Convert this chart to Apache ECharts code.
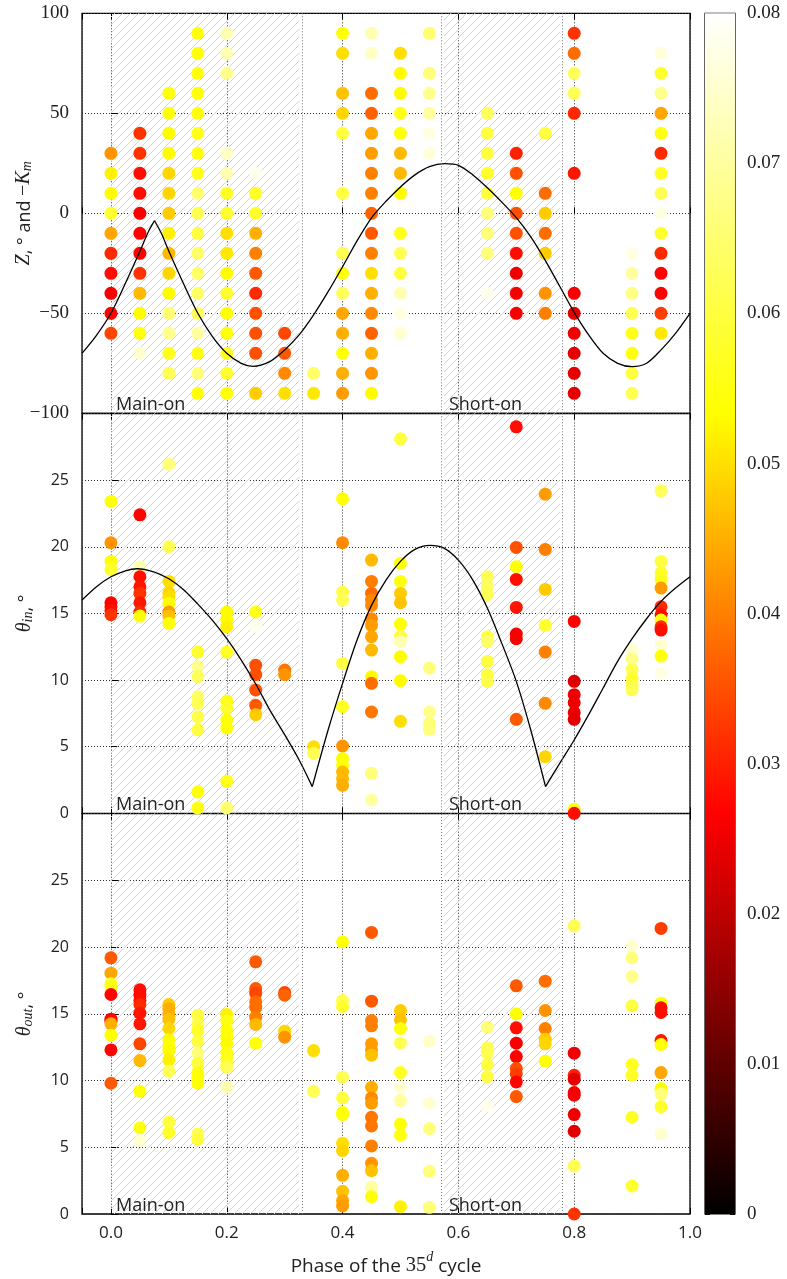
<!DOCTYPE html>
<html><head><meta charset="utf-8">
<script src="https://cdn.jsdelivr.net/npm/echarts@6/dist/echarts.min.js"></script>
<style>html,body{margin:0;padding:0;background:#fff}#c{width:787px;height:1279px}</style>
</head><body><div id="c"></div>
<script>
// ---------------- DATA ----------------
const xRange = [-0.05, 1.0];
const zTicks = [-100, -50, 0, 50, 100];
const thetaTicks = [0, 5, 10, 15, 20, 25];
const colorTicks = [0, 0.01, 0.02, 0.03, 0.04, 0.05, 0.06, 0.07, 0.08];
const hatchRegions = [[0.0, 0.325, 'Main-on'], [0.575, 0.775, 'Short-on']];

// [phase, Z, colour value]
const zPoints = [
[0,30,.042],[0,20,.052],[0,10,.053],[0,0,.058],[0,-10,.044],[0,-20,.031],[0,-30,.028],[0,-40,.026],[0,-50,.027],[0,-60,.034],
[.05,40,.032],[.05,30,.032],[.05,20,.028],[.05,10,.028],[.05,0,.026],[.05,-10,.027],[.05,-20,.027],[.05,-30,.032],[.05,-40,.046],[.05,-50,.053],[.05,-60,.055],[.05,-70,.075],
[.1,60,.054],[.1,50,.054],[.1,40,.053],[.1,30,.053],[.1,20,.049],[.1,10,.049],[.1,0,.048],[.1,-10,.052],[.1,-20,.046],[.1,-30,.049],[.1,-40,.053],[.1,-50,.065],[.1,-60,.068],[.1,-70,.056],[.1,-80,.062],
[.15,90,.054],[.15,80,.054],[.15,70,.054],[.15,60,.054],[.15,50,.054],[.15,40,.056],[.15,30,.055],[.15,20,.056],[.15,10,.065],[.15,0,.062],[.15,-10,.060],[.15,-20,.064],[.15,-30,.064],[.15,-40,.064],[.15,-50,.063],[.15,-60,.070],[.15,-70,.055],[.15,-80,.066],[.15,-90,.054],
[.2,90,.072],[.2,80,.072],[.2,70,.068],[.2,30,.074],[.2,20,.072],[.2,10,.057],[.2,0,.058],[.2,-10,.050],[.2,-20,.051],[.2,-30,.053],[.2,-40,.058],[.2,-50,.054],[.2,-60,.054],[.2,-70,.057],[.2,-80,.058],[.2,-90,.054],
[.25,20,.078],[.25,10,.057],[.25,0,.058],[.25,-10,.045],[.25,-20,.040],[.25,-30,.036],[.25,-40,.031],[.25,-50,.035],[.25,-60,.035],[.25,-70,.035],[.25,-90,.048],
[.3,-60,.034],[.3,-70,.036],[.3,-80,.041],[.3,-90,.050],
[.35,-80,.064],[.35,-90,.051],
[.4,90,.054],[.4,80,.050],[.4,60,.047],[.4,50,.049],[.4,40,.060],[.4,10,.060],[.4,-20,.062],[.4,-30,.054],[.4,-40,.063],[.4,-50,.044],[.4,-60,.045],[.4,-70,.054],[.4,-80,.045],[.4,-90,.043],
[.45,90,.072],[.45,80,.074],[.45,60,.038],[.45,50,.037],[.45,40,.044],[.45,30,.043],[.45,20,.040],[.45,10,.040],[.45,0,.037],[.45,-10,.036],[.45,-20,.040],[.45,-30,.050],[.45,-40,.045],[.45,-50,.041],[.45,-60,.037],[.45,-70,.045],[.45,-80,.042],[.45,-90,.053],
[.5,80,.050],[.5,70,.053],[.5,60,.053],[.5,50,.056],[.5,40,.054],[.5,30,.046],[.5,20,.046],[.5,10,.053],[.5,-10,.056],[.5,-20,.062],[.5,-30,.060],[.5,-40,.072],[.5,-50,.077],[.5,-60,.075],
[.55,90,.065],[.55,70,.066],[.55,60,.068],[.55,50,.070],[.55,40,.077],[.55,30,.076],
[.65,50,.063],[.65,40,.060],[.65,30,.060],[.65,20,.058],[.65,10,.060],[.65,0,.066],[.65,-10,.066],[.65,-20,.066],[.65,-40,.078],
[.7,30,.030],[.7,20,.035],[.7,10,.054],[.7,0,.035],[.7,-10,.035],[.7,-20,.028],[.7,-30,.025],[.7,-40,.026],[.7,-50,.026],
[.75,40,.060],[.75,10,.038],[.75,0,.048],[.75,-10,.038],[.75,-20,.048],[.75,-40,.042],[.75,-50,.040],
[.8,90,.032],[.8,80,.038],[.8,70,.063],[.8,60,.062],[.8,50,.031],[.8,20,.029],[.8,-40,.026],[.8,-50,.024],[.8,-60,.025],[.8,-70,.024],[.8,-80,.024],[.8,-90,.024],
[.9,-20,.077],[.9,-30,.070],[.9,-40,.067],[.9,-50,.062],[.9,-60,.056],[.9,-70,.055],[.9,-80,.060],[.9,-90,.062],
[.95,80,.076],[.95,70,.058],[.95,60,.068],[.95,50,.044],[.95,40,.055],[.95,30,.031],[.95,20,.057],[.95,10,.062],[.95,0,.077],[.95,-10,.058],[.95,-20,.031],[.95,-30,.027],[.95,-40,.027],[.95,-50,.033],[.95,-60,.051]
];

// [phase, theta_in, colour value]
const thetaInPoints = [
[0,23.4,.054],[0,20.3,.042],[0,18.9,.054],[0,18.3,.058],[0,15.8,.027],[0,15.5,.027],[0,15.2,.028],[0,14.9,.032],
[.05,22.4,.027],[.05,18.5,.072],[.05,17.75,.028],[.05,17.0,.029],[.05,16.5,.032],[.05,15.8,.029],[.05,15.1,.031],[.05,14.8,.054],
[.1,26.2,.066],[.1,20.0,.062],[.1,17.4,.050],[.1,16.55,.049],[.1,16.25,.050],[.1,15.75,.053],[.1,15.1,.043],[.1,14.8,.047],[.1,14.25,.054],
[.15,12.1,.058],[.15,11.0,.068],[.15,10.25,.063],[.15,8.75,.064],[.15,8.25,.062],[.15,7.25,.061],[.15,6.25,.060],[.15,1.6,.054],[.15,0.4,.055],
[.2,15.1,.053],[.2,14.55,.053],[.2,14.0,.052],[.2,12.1,.057],[.2,8.4,.055],[.2,7.9,.058],[.2,7.0,.054],[.2,6.4,.054],[.2,2.4,.056],[.2,0.4,.065],
[.25,15.1,.056],[.25,14.0,.078],[.25,11.1,.035],[.25,10.4,.035],[.25,9.25,.035],[.25,8.1,.036],[.25,7.4,.048],
[.3,10.75,.039],[.3,10.4,.042],
[.35,5.0,.050],[.35,4.5,.062],
[.4,23.6,.054],[.4,20.3,.041],[.4,16.6,.061],[.4,16.0,.062],[.4,11.25,.060],[.4,8.0,.057],[.4,5.05,.042],[.4,4.1,.053],[.4,3.6,.054],[.4,3.1,.046],[.4,2.6,.046],[.4,2.1,.045],
[.45,19.0,.046],[.45,17.4,.040],[.45,16.5,.038],[.45,16.0,.041],[.45,15.6,.041],[.45,14.6,.041],[.45,14.1,.043],[.45,13.25,.044],[.45,12.25,.046],[.45,10.25,.053],[.45,9.75,.038],[.45,7.6,.039],[.45,3.0,.066],[.45,1.0,.070],
[.5,28.1,.060],[.5,18.75,.054],[.5,17.4,.055],[.5,16.5,.048],[.5,15.8,.047],[.5,14.2,.054],[.5,13.3,.060],[.5,12.9,.072],[.5,11.75,.053],[.5,9.95,.053],[.5,6.9,.050],
[.55,10.9,.066],[.55,7.6,.068],[.55,6.75,.066],[.55,6.3,.066],
[.65,17.75,.062],[.65,17.0,.063],[.65,16.4,.062],[.65,13.25,.060],[.65,12.9,.064],[.65,11.4,.060],[.65,10.4,.060],[.65,9.9,.061],
[.7,29.0,.028],[.7,19.95,.035],[.7,18.5,.054],[.7,17.55,.028],[.7,15.45,.029],[.7,13.45,.026],[.7,13.1,.026],[.7,7.05,.036],
[.75,23.95,.043],[.75,19.8,.040],[.75,16.8,.048],[.75,14.1,.058],[.75,12.1,.040],[.75,8.25,.041],[.75,4.25,.049],
[.8,14.4,.027],[.8,9.9,.023],[.8,8.9,.025],[.8,8.3,.025],[.8,7.55,.025],[.8,7.05,.024],[.8,0.3,.055],[.8,0.0,.028],
[.9,12.25,.075],[.9,11.6,.068],[.9,10.8,.062],[.9,10.1,.058],[.9,9.6,.060],[.9,9.25,.062],
[.95,24.2,.063],[.95,18.9,.060],[.95,18.05,.058],[.95,17.55,.056],[.95,16.9,.043],[.95,15.5,.031],[.95,14.9,.028],[.95,14.5,.055],[.95,14.0,.031],[.95,13.75,.028],[.95,12.6,.075],[.95,11.8,.054],[.95,10.5,.077]
];

// [phase, theta_out, colour value]
const thetaOutPoints = [
[0,19.2,.036],[0,18.05,.044],[0,17.25,.056],[0,17.0,.055],[0,16.45,.027],[0,14.6,.027],[0,14.45,.028],[0,14.25,.045],[0,13.4,.054],[0,12.3,.027],[0,9.8,.036],
[.05,16.8,.028],[.05,16.4,.028],[.05,16.0,.028],[.05,15.7,.031],[.05,15.05,.029],[.05,14.25,.029],[.05,12.75,.034],[.05,11.5,.046],[.05,9.2,.054],[.05,6.45,.055],[.05,5.5,.075],
[.1,15.7,.048],[.1,15.4,.045],[.1,15.0,.045],[.1,14.6,.047],[.1,13.9,.049],[.1,13.05,.053],[.1,12.6,.054],[.1,12.25,.053],[.1,11.55,.052],[.1,10.7,.062],[.1,6.9,.060],[.1,6.1,.058],
[.15,14.9,.060],[.15,14.25,.061],[.15,13.75,.058],[.15,12.95,.060],[.15,12.05,.066],[.15,11.3,.060],[.15,10.6,.055],[.15,10.25,.054],[.15,9.8,.054],[.15,6.0,.062],[.15,5.6,.060],
[.2,14.95,.052],[.2,14.45,.055],[.2,13.75,.054],[.2,13.25,.054],[.2,12.75,.053],[.2,12.1,.055],[.2,11.7,.056],[.2,11.25,.057],[.2,11.0,.062],[.2,9.5,.072],
[.25,18.9,.036],[.25,16.9,.036],[.25,16.55,.034],[.25,15.9,.038],[.25,15.5,.038],[.25,14.75,.040],[.25,14.2,.046],[.25,12.8,.054],
[.3,16.6,.034],[.3,16.4,.037],[.3,13.7,.049],[.3,13.25,.042],
[.35,12.25,.050],[.35,9.2,.062],
[.4,20.4,.054],[.4,16.0,.062],[.4,15.55,.058],[.4,10.25,.062],[.4,8.7,.060],[.4,7.6,.054],[.4,7.45,.054],[.4,5.3,.050],[.4,4.75,.049],[.4,2.9,.045],[.4,1.7,.047],[.4,1.0,.044],[.4,0.6,.043],
[.45,21.1,.036],[.45,15.95,.036],[.45,14.5,.040],[.45,14.1,.040],[.45,12.75,.043],[.45,12.3,.043],[.45,11.9,.047],[.45,9.5,.045],[.45,8.7,.041],[.45,8.3,.043],[.45,7.25,.039],[.45,6.6,.039],[.45,5.1,.040],[.45,3.8,.042],[.45,3.25,.047],[.45,2.0,.070],[.45,1.3,.054],
[.5,15.25,.048],[.5,14.55,.047],[.5,13.9,.054],[.5,12.8,.062],[.5,10.6,.057],[.5,9.5,.075],[.5,8.5,.070],[.5,6.75,.054],[.5,5.9,.055],[.5,0.55,.052],
[.55,12.95,.074],[.55,8.3,.075],[.55,6.4,.066],[.55,3.2,.066],[.55,0.5,.066],
[.65,14.0,.066],[.65,12.45,.062],[.65,12.05,.062],[.65,11.2,.060],[.65,10.3,.060],[.65,8.1,.078],
[.7,17.1,.036],[.7,15.0,.054],[.7,13.95,.028],[.7,12.8,.026],[.7,11.8,.027],[.7,10.9,.035],[.7,10.5,.033],[.7,9.9,.027],[.7,8.8,.036],
[.75,17.45,.038],[.75,15.25,.042],[.75,13.9,.040],[.75,13.1,.048],[.75,12.75,.049],[.75,11.45,.054],
[.8,21.6,.062],[.8,12.05,.025],[.8,10.4,.030],[.8,10.1,.024],[.8,9.1,.026],[.8,8.9,.026],[.8,7.45,.025],[.8,6.2,.024],[.8,3.6,.062],[.8,0.0,.032],
[.9,20.1,.075],[.9,19.2,.066],[.9,17.8,.068],[.9,15.6,.060],[.9,11.2,.057],[.9,10.4,.057],[.9,7.25,.057],[.9,2.1,.058],
[.95,21.4,.033],[.95,15.8,.054],[.95,15.45,.028],[.95,15.1,.028],[.95,13.0,.029],[.95,12.7,.054],[.95,10.6,.044],[.95,9.4,.054],[.95,9.0,.066],[.95,8.05,.058],[.95,6.0,.075]
];

// -K_m curve
const zCurve = [
[-0.05,-70],[-0.025,-61],[0,-50],[0.025,-35],[0.05,-19],[0.065,-9],[0.0753,-3.7],[0.087,-10],[0.1,-19],[0.125,-35],
[0.15,-50],[0.175,-61.5],[0.2,-70],[0.225,-75],[0.245,-76.5],[0.275,-74],[0.3,-68.3],[0.325,-60.8],[0.35,-50.8],[0.375,-39.2],
[0.4,-26.7],[0.425,-13.8],[0.45,-2.3],[0.475,6],[0.5,13.2],[0.525,19.2],[0.55,23.3],[0.576,24.8],[0.6,24],[0.625,19.2],
[0.65,12.8],[0.675,5.6],[0.7,-2.2],[0.725,-11.8],[0.75,-23.5],[0.775,-36.5],[0.8,-49.5],[0.825,-60.8],[0.85,-70],[0.875,-75],
[0.9,-76.7],[0.925,-75],[0.95,-68.3],[0.975,-60],[1.0,-50]
];
const zCusps = [0.0753];

const thetaInCurve = [
[-0.05,16],[-0.025,17],[0,17.75],[0.025,18.2],[0.045,18.35],[0.075,18.1],[0.1,17.6],[0.125,16.8],[0.15,15.7],[0.175,14.5],
[0.2,13.1],[0.225,11.5],[0.25,9.7],[0.275,7.7],[0.3,5.9],[0.325,4.0],[0.3477,2.0],[0.375,6.25],[0.4,9.75],[0.425,13],
[0.45,15.6],[0.475,17.5],[0.5,18.9],[0.525,19.8],[0.551,20.1],[0.575,19.9],[0.6,19.0],[0.625,17.5],[0.65,15.4],[0.675,12.75],
[0.7,9.9],[0.725,6.25],[0.7505,2.0],[0.775,3.75],[0.8,5.5],[0.825,7.4],[0.85,9.4],[0.875,11.4],[0.9,13.1],[0.925,14.6],
[0.95,15.9],[0.975,16.9],[1.0,17.75]
];
const thetaInCusps = [0.3477, 0.7505];

// ---------------- CHART ----------------
const SANS = "'Open Sans','Noto Sans',sans-serif";
const SERIF = "'Liberation Serif','DejaVu Serif',serif";
const TXT = '#222';

function makeHatch() {
  const s = 8;
  const c = document.createElement('canvas');
  c.width = s; c.height = s;
  const g = c.getContext('2d');
  g.strokeStyle = '#d4d4d4'; g.lineWidth = 1;
  g.beginPath();
  g.moveTo(0, s); g.lineTo(s, 0);
  g.moveTo(-1, 1); g.lineTo(1, -1);
  g.moveTo(s - 1, s + 1); g.lineTo(s + 1, s - 1);
  g.stroke();
  return c;
}
const hatch = { image: makeHatch(), repeat: 'repeat' };

const grids = [
  { left: 82, top: 13.3, width: 608, height: 400 },
  { left: 82, top: 413.5, width: 608, height: 399.8 },
  { left: 82, top: 813.7, width: 608, height: 400.3 }
].map(g => Object.assign(g, { show: true, borderColor: '#000', borderWidth: 1.3, backgroundColor: 'transparent', outerBoundsMode: 'none', containLabel: false }));
grids.push({ left: 705, top: 13.3, width: 30, height: 1200.7, show: true, borderColor: '#000', borderWidth: 1.2, backgroundColor: 'transparent', outerBoundsMode: 'none', containLabel: false });

const dotted = { color: '#333', type: [1, 2], width: 1 };
const xAxes = [], yAxes = [];
for (let i = 0; i < 3; i++) {
  const last = i === 2;
  xAxes.push({
    type: 'value', gridIndex: i, min: xRange[0], max: xRange[1], splitNumber: 5,
    axisLine: { show: false },
    axisTick: { show: true, inside: true, length: 6, lineStyle: { color: '#000' } },
    axisLabel: { show: last, formatter: v => v < -0.001 ? '' : v.toFixed(1), fontFamily: SANS, fontSize: 17, color: TXT, margin: 11 },
    splitLine: { show: true, lineStyle: dotted },
    name: last ? '{n|Phase of the }{m|35}{sup|d}{n| cycle}' : '',
    nameLocation: 'middle', nameGap: 36, nameMoveOverlap: false,
    nameTextStyle: { rich: {
      n: { fontFamily: SANS, fontSize: 19, color: TXT, lineHeight: 26, verticalAlign: 'bottom' },
      m: { fontFamily: SERIF, fontSize: 20.5, color: TXT, lineHeight: 26, verticalAlign: 'bottom' },
      sup: { fontFamily: SERIF, fontStyle: 'italic', fontSize: 14, color: TXT, lineHeight: 26, verticalAlign: 'top' }
    } }
  });
  xAxes.push({
    type: 'value', gridIndex: i, position: 'top', min: xRange[0], max: xRange[1], splitNumber: 5,
    axisLine: { show: false }, axisLabel: { show: false }, splitLine: { show: false },
    axisTick: { show: true, inside: true, length: 6, lineStyle: { color: '#000' } }
  });
}
const yNames = [
  '{i|Z}{n|, ° and }{s|−}{i|K}{sub|m}',
  '{i|θ}{sub|in}{n|, °}',
  '{i|θ}{sub|out}{n|, °}'
];
const nameRich = {
  i: { fontFamily: SERIF, fontStyle: 'italic', fontSize: 20, color: TXT, lineHeight: 26, verticalAlign: 'bottom' },
  s: { fontFamily: SERIF, fontSize: 20, color: TXT, lineHeight: 26, verticalAlign: 'bottom' },
  n: { fontFamily: SANS, fontSize: 18, color: TXT, lineHeight: 26, verticalAlign: 'bottom' },
  sub: { fontFamily: SERIF, fontStyle: 'italic', fontSize: 14, color: TXT, lineHeight: 20, verticalAlign: 'bottom' }
};
for (let i = 0; i < 3; i++) {
  const isZ = i === 0;
  yAxes.push({
    type: 'value', gridIndex: i,
    min: isZ ? zTicks[0] : thetaTicks[0],
    max: isZ ? zTicks[zTicks.length - 1] : 30,
    interval: isZ ? 50 : 5,
    axisLine: { show: false },
    axisTick: { show: true, inside: true, length: 7, lineStyle: { color: '#000' } },
    axisLabel: isZ
      ? { fontFamily: SERIF, fontSize: 19, color: TXT, margin: 13, formatter: v => v < 0 ? '−' + (-v) : String(v) }
      : { fontFamily: SANS, fontSize: 16, color: TXT, margin: 13, showMaxLabel: false, formatter: v => thetaTicks.includes(v) ? String(v) : '' },
    splitLine: { show: true, lineStyle: dotted },
    name: yNames[i], nameLocation: 'middle', nameGap: isZ ? 48 : 47, nameMoveOverlap: false,
    nameTextStyle: { rich: nameRich }
  });
}
// colour bar axes
xAxes.push({ type: 'category', gridIndex: 3, data: ['c'], show: false });
yAxes.push({
  type: 'value', gridIndex: 3, position: 'right', min: colorTicks[0], max: colorTicks[colorTicks.length - 1], interval: 0.01,
  axisLine: { show: false }, splitLine: { show: false },
  axisTick: { show: true, inside: true, length: 5, lineStyle: { color: '#000' } },
  axisLabel: { fontFamily: SERIF, fontSize: 19, color: TXT, margin: 12, formatter: v => v === 0 ? '0' : v.toFixed(2) }
});
yAxes.push({
  type: 'value', gridIndex: 3, position: 'left', min: colorTicks[0], max: colorTicks[colorTicks.length - 1], interval: 0.01,
  axisLine: { show: false }, splitLine: { show: false }, axisLabel: { show: false },
  axisTick: { show: true, inside: true, length: 5, lineStyle: { color: '#000' } }
});

const series = [];
const scatterIdx = [];
const pointSets = [zPoints, thetaInPoints, thetaOutPoints];
for (let i = 0; i < 3; i++) {
  series.push({
    type: 'line', xAxisIndex: i * 2, yAxisIndex: i, data: [], silent: true, z: 1,
    markArea: {
      silent: true,
      itemStyle: { color: hatch, opacity: 1 },
      label: { show: true, position: 'insideBottomLeft', distance: 0, offset: [5, 1], fontFamily: SANS, fontSize: 18, color: TXT },
      data: hatchRegions.map(r => [{ xAxis: r[0], name: r[2] }, { xAxis: r[1] }])
    },
    markLine: {
      silent: true, symbol: 'none', label: { show: false },
      lineStyle: { color: '#777', type: [1, 2], width: 1 },
      data: hatchRegions.flatMap(r => r[0] > 0 ? [{ xAxis: r[0] }, { xAxis: r[1] }] : [{ xAxis: r[1] }])
    }
  });
  scatterIdx.push(series.length);
  series.push({
    type: 'scatter', xAxisIndex: i * 2, yAxisIndex: i, data: pointSets[i],
    symbolSize: 13, clip: false, z: 3, itemStyle: { opacity: 1 }
  });
}
function addCurve(pts, cusps, panel) {
  const bounds = [xRange[0], ...cusps, xRange[1]];
  for (let k = 0; k < bounds.length - 1; k++) {
    const seg = pts.filter(p => p[0] >= bounds[k] - 1e-9 && p[0] <= bounds[k + 1] + 1e-9);
    series.push({
      type: 'line', xAxisIndex: panel * 2, yAxisIndex: panel, data: seg, smooth: 0.3,
      symbol: 'none', z: 4, silent: true, lineStyle: { color: '#000', width: 1.3 }
    });
  }
}
addCurve(zCurve, zCusps, 0);
addCurve(thetaInCurve, thetaInCusps, 1);

series.push({
  type: 'bar', xAxisIndex: 6, yAxisIndex: 3, data: [colorTicks[colorTicks.length - 1]], barWidth: '100%', silent: true, z: 1,
  itemStyle: { color: { type: 'linear', x: 0, y: 1, x2: 0, y2: 0, colorStops: [
    { offset: 0, color: '#000000' }, { offset: 1 / 3, color: '#ff0000' }, { offset: 2 / 3, color: '#ffff00' }, { offset: 1, color: '#ffffff' }
  ] } }
});

const chart = echarts.init(document.getElementById('c'), null, { renderer: 'canvas' });
chart.setOption({
  animation: false,
  backgroundColor: '#fff',
  grid: grids,
  xAxis: xAxes,
  yAxis: yAxes,
  visualMap: {
    show: false, type: 'continuous', min: 0, max: 0.08, dimension: 2, seriesIndex: scatterIdx,
    inRange: { color: ['#000000', '#ff0000', '#ffff00', '#ffffff'] }
  },
  series: series
});
</script></body></html>
